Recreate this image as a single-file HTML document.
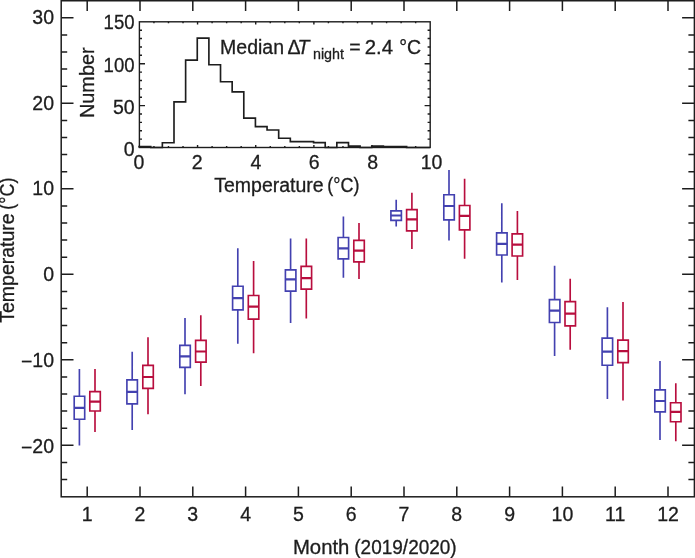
<!DOCTYPE html>
<html lang="en"><head><meta charset="utf-8"><title>Monthly temperature box plot</title>
<style>html,body{margin:0;padding:0;background:#fff}svg{display:block}text{font-family:"Liberation Sans",sans-serif;fill:#1d1d1d;stroke:#1d1d1d;stroke-width:0.3px}</style></head><body>
<svg width="695" height="558" viewBox="0 0 695 558">
<rect width="695" height="558" fill="#fff"/>
<g stroke="#1d1d1d" stroke-width="1.50" fill="none" stroke-linecap="butt">
<rect x="61.20" y="0.75" width="633.20" height="496.05"/>
<path d="M61.20 479.50h6.00M694.40 479.50h-6.00M61.20 462.40h6.00M694.40 462.40h-6.00M61.20 445.30h12.30M694.40 445.30h-12.30M61.20 428.20h6.00M694.40 428.20h-6.00M61.20 411.10h6.00M694.40 411.10h-6.00M61.20 394.00h6.00M694.40 394.00h-6.00M61.20 376.90h6.00M694.40 376.90h-6.00M61.20 359.80h12.30M694.40 359.80h-12.30M61.20 342.70h6.00M694.40 342.70h-6.00M61.20 325.60h6.00M694.40 325.60h-6.00M61.20 308.50h6.00M694.40 308.50h-6.00M61.20 291.40h6.00M694.40 291.40h-6.00M61.20 274.30h12.30M694.40 274.30h-12.30M61.20 257.20h6.00M694.40 257.20h-6.00M61.20 240.10h6.00M694.40 240.10h-6.00M61.20 223.00h6.00M694.40 223.00h-6.00M61.20 205.90h6.00M694.40 205.90h-6.00M61.20 188.80h12.30M694.40 188.80h-12.30M61.20 171.70h6.00M694.40 171.70h-6.00M61.20 154.60h6.00M694.40 154.60h-6.00M61.20 137.50h6.00M694.40 137.50h-6.00M61.20 120.40h6.00M694.40 120.40h-6.00M61.20 103.30h12.30M694.40 103.30h-12.30M61.20 86.20h6.00M694.40 86.20h-6.00M61.20 69.10h6.00M694.40 69.10h-6.00M61.20 52.00h6.00M694.40 52.00h-6.00M61.20 34.90h6.00M694.40 34.90h-6.00M61.20 17.80h12.30M694.40 17.80h-12.30M87.20 496.80v-10.30M87.20 0.75v10.30M140.00 496.80v-10.30M140.00 0.75v10.30M192.80 496.80v-10.30M192.80 0.75v10.30M245.60 496.80v-10.30M245.60 0.75v10.30M298.40 496.80v-10.30M298.40 0.75v10.30M351.20 496.80v-10.30M351.20 0.75v10.30M404.00 496.80v-10.30M404.00 0.75v10.30M456.80 496.80v-10.30M456.80 0.75v10.30M509.60 496.80v-10.30M509.60 0.75v10.30M562.40 496.80v-10.30M562.40 0.75v10.30M615.20 496.80v-10.30M615.20 0.75v10.30M668.00 496.80v-10.30M668.00 0.75v10.30"/>
</g>
<g font-size="19.5" text-anchor="end">
<text x="54.0" y="23.8">30</text>
<text x="54.0" y="109.9">20</text>
<text x="54.0" y="195.0">10</text>
<text x="54.0" y="281.3">0</text>
<text x="54.0" y="366.8"><tspan dy="1.4">−</tspan><tspan dy="-1.4">10</tspan></text>
<text x="54.0" y="452.8"><tspan dy="1.4">−</tspan><tspan dy="-1.4">20</tspan></text>
</g>
<g font-size="19.5" text-anchor="middle">
<text x="87.2" y="521.1">1</text>
<text x="140.0" y="521.1">2</text>
<text x="192.8" y="521.1">3</text>
<text x="245.6" y="521.1">4</text>
<text x="298.4" y="521.1">5</text>
<text x="351.2" y="521.1">6</text>
<text x="404.0" y="521.1">7</text>
<text x="456.8" y="521.1">8</text>
<text x="509.6" y="521.1">9</text>
<text x="562.4" y="521.1">10</text>
<text x="615.2" y="521.1">11</text>
<text x="668.0" y="521.1">12</text>
</g>
<text y="554.4" font-size="19.5"><tspan x="292.9" textLength="56.5" lengthAdjust="spacingAndGlyphs">Month</tspan> <tspan x="354.3" textLength="102.4" lengthAdjust="spacingAndGlyphs">(2019/2020)</tspan></text>
<text transform="translate(14.3 322.8) rotate(-90)" font-size="19.5"><tspan x="0" textLength="109.5" lengthAdjust="spacingAndGlyphs">Temperature</tspan> <tspan x="113.1" textLength="32.1" lengthAdjust="spacingAndGlyphs">(°C)</tspan></text>
<g stroke="#4341b0" fill="none" stroke-width="1.65">
<path d="M79.4 369.0V396.2M79.4 419.2V445.4M74.2 396.2h10.5v23.0h-10.5zM132.2 351.8V379.8M132.2 403.9V429.9M126.9 379.8h10.5v24.1h-10.5zM185.0 317.9V345.4M185.0 367.3V394.2M179.8 345.4h10.5v21.9h-10.5zM237.8 248.2V286.2M237.8 309.9V343.7M232.6 286.2h10.5v23.7h-10.5zM290.6 238.4V269.9M290.6 291.2V323.0M285.4 269.9h10.5v21.3h-10.5zM343.4 216.4V237.5M343.4 258.9V277.7M338.1 237.5h10.5v21.4h-10.5zM396.2 199.7V210.8M396.2 220.4V226.4M390.9 210.8h10.5v9.6h-10.5zM449.0 170.0V194.7M449.0 219.8V240.4M443.8 194.7h10.5v25.1h-10.5zM501.8 203.2V232.9M501.8 255.0V282.6M496.6 232.9h10.5v22.1h-10.5zM554.6 265.8V299.6M554.6 322.5V356.0M549.4 299.6h10.5v22.9h-10.5zM607.4 307.2V338.1M607.4 365.2V399.0M602.1 338.1h10.5v27.1h-10.5zM660.0 360.9V389.8M660.0 411.9V440.0M654.8 389.8h10.5v22.1h-10.5z"/>
<path stroke-width="2.2" d="M74.2 407.8h10.5M126.9 391.8h10.5M179.8 356.3h10.5M232.6 298.1h10.5M285.4 279.4h10.5M338.1 248.3h10.5M390.9 215.5h10.5M443.8 206.0h10.5M496.6 243.9h10.5M549.4 310.7h10.5M602.1 351.7h10.5M654.8 401.0h10.5"/>
</g>
<g stroke="#b80e3e" fill="none" stroke-width="1.65">
<path d="M95.0 369.0V391.6M95.0 411.0V432.0M89.8 391.6h10.5v19.4h-10.5zM148.0 337.3V365.4M148.0 388.4V414.2M142.8 365.4h10.5v23.0h-10.5zM200.8 315.2V340.4M200.8 362.2V386.1M195.6 340.4h10.5v21.8h-10.5zM253.6 261.1V295.5M253.6 319.1V353.3M248.3 295.5h10.5v23.6h-10.5zM306.3 238.4V266.3M306.3 289.2V318.6M301.1 266.3h10.5v22.9h-10.5zM359.0 223.0V240.4M359.0 261.9V279.0M353.8 240.4h10.5v21.5h-10.5zM411.9 192.8V209.6M411.9 230.9V249.0M406.6 209.6h10.5v21.3h-10.5zM464.6 178.8V205.5M464.6 229.8V258.7M459.4 205.5h10.5v24.3h-10.5zM517.4 211.0V233.9M517.4 256.0V280.1M512.1 233.9h10.5v22.1h-10.5zM570.2 278.7V301.6M570.2 325.9V349.7M565.0 301.6h10.5v24.3h-10.5zM623.0 302.0V340.1M623.0 362.6V400.4M617.8 340.1h10.5v22.5h-10.5zM675.8 383.2V402.7M675.8 421.7V441.2M670.5 402.7h10.5v19.0h-10.5z"/>
<path stroke-width="2.2" d="M89.8 401.6h10.5M142.8 377.0h10.5M195.6 351.5h10.5M248.3 306.7h10.5M301.1 278.1h10.5M353.8 250.6h10.5M406.6 219.4h10.5M459.4 215.8h10.5M512.1 244.7h10.5M565.0 313.6h10.5M617.8 351.1h10.5M670.5 411.9h10.5"/>
</g>
<g stroke="#1d1d1d" stroke-width="1.4" fill="none">
<rect x="139.40" y="21.80" width="290.80" height="125.70"/>
<path d="M139.40 139.12h2.60M430.20 139.12h-2.60M139.40 130.74h2.60M430.20 130.74h-2.60M139.40 122.36h2.60M430.20 122.36h-2.60M139.40 113.98h2.60M430.20 113.98h-2.60M139.40 105.60h5.60M430.20 105.60h-5.60M139.40 97.22h2.60M430.20 97.22h-2.60M139.40 88.84h2.60M430.20 88.84h-2.60M139.40 80.46h2.60M430.20 80.46h-2.60M139.40 72.08h2.60M430.20 72.08h-2.60M139.40 63.70h5.60M430.20 63.70h-5.60M139.40 55.32h2.60M430.20 55.32h-2.60M139.40 46.94h2.60M430.20 46.94h-2.60M139.40 38.56h2.60M430.20 38.56h-2.60M139.40 30.18h2.60M430.20 30.18h-2.60M153.94 147.50v-1.40M153.94 21.80v1.40M168.48 147.50v-1.40M168.48 21.80v1.40M183.02 147.50v-1.40M183.02 21.80v1.40M197.56 147.50v-2.60M197.56 21.80v2.60M212.10 147.50v-1.40M212.10 21.80v1.40M226.64 147.50v-1.40M226.64 21.80v1.40M241.18 147.50v-1.40M241.18 21.80v1.40M255.72 147.50v-2.60M255.72 21.80v2.60M270.26 147.50v-1.40M270.26 21.80v1.40M284.80 147.50v-1.40M284.80 21.80v1.40M299.34 147.50v-1.40M299.34 21.80v1.40M313.88 147.50v-2.60M313.88 21.80v2.60M328.42 147.50v-1.40M328.42 21.80v1.40M342.96 147.50v-1.40M342.96 21.80v1.40M357.50 147.50v-1.40M357.50 21.80v1.40M372.04 147.50v-2.60M372.04 21.80v2.60M386.58 147.50v-1.40M386.58 21.80v1.40M401.12 147.50v-1.40M401.12 21.80v1.40M415.66 147.50v-1.40M415.66 21.80v1.40"/>
</g>
<path d="M139.10 147.50V146.49H150.73V147.50H162.36V142.72H174.00V101.83H185.63V60.18H197.26V38.14H208.89V64.79H220.52V81.72H232.16V91.86H243.79V118.17H255.42V126.55H267.05V129.99H278.68V138.28H290.32V141.63H301.95V141.63H313.58V142.64H325.21V147.50H336.84V142.64H348.48V146.08H360.11V147.50H371.74V146.08H383.37V146.49H395.00V146.49H406.64V147.50H418.27V147.50H429.90V147.50" stroke="#1d1d1d" stroke-width="1.65" fill="none" stroke-linejoin="miter"/>
<g font-size="19.5" text-anchor="end">
<text x="134.6" y="29.0" textLength="31.0" lengthAdjust="spacingAndGlyphs">150</text>
<text x="134.6" y="71.9" textLength="31.0" lengthAdjust="spacingAndGlyphs">100</text>
<text x="134.6" y="113.8">50</text>
<text x="134.6" y="155.8">0</text>
</g>
<g font-size="19.5" text-anchor="middle">
<text x="138.9" y="169.3">0</text>
<text x="197.2" y="169.3">2</text>
<text x="255.9" y="169.3">4</text>
<text x="314.1" y="169.3">6</text>
<text x="372.7" y="169.3">8</text>
<text x="431.5" y="169.3">10</text>
</g>
<text y="192.4" font-size="19.5"><tspan x="214.2" textLength="109.5" lengthAdjust="spacingAndGlyphs">Temperature</tspan> <tspan x="327.3" textLength="32.1" lengthAdjust="spacingAndGlyphs">(°C)</tspan></text>
<text transform="translate(94.4 118.0) rotate(-90)" font-size="19.5" textLength="70.6" lengthAdjust="spacingAndGlyphs">Number</text>
<text y="53.5" font-size="19.5"><tspan x="220.1">Median</tspan> <tspan x="287.6">Δ</tspan><tspan x="297.4" font-style="italic">T</tspan><tspan x="313.0" dy="5.4" font-size="14.6" textLength="31.0" lengthAdjust="spacingAndGlyphs">night</tspan><tspan x="349.3" dy="-5.4">=</tspan> <tspan x="364.7" textLength="28.3" lengthAdjust="spacingAndGlyphs">2.4</tspan> <tspan x="399.2">°C</tspan></text>
</svg></body></html>
